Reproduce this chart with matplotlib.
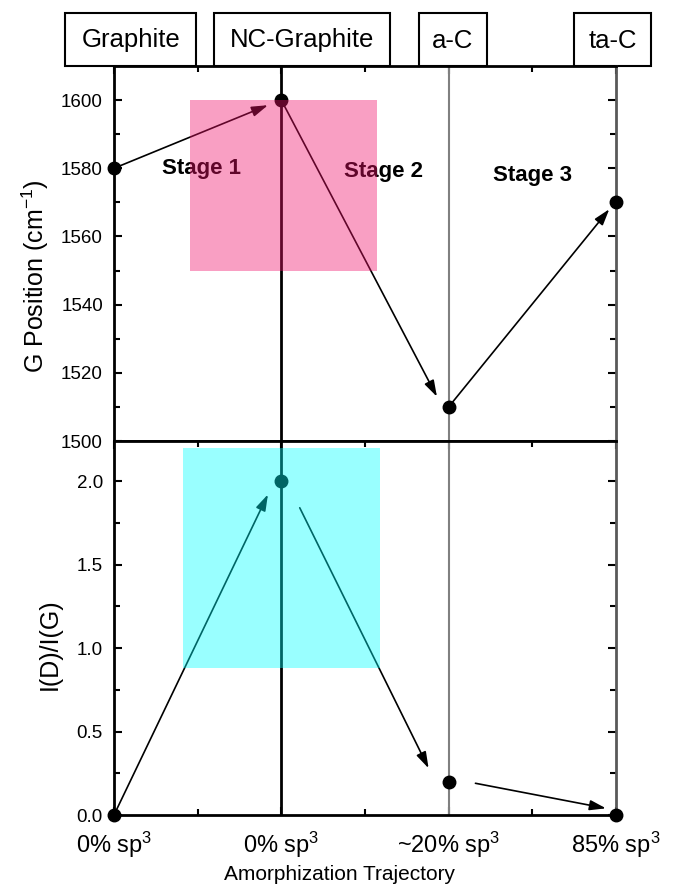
import matplotlib
matplotlib.use("Agg")
import matplotlib.pyplot as plt
import matplotlib.transforms as mtransforms
from matplotlib.patches import Rectangle

plt.rcParams['font.family'] = ['Liberation Sans', 'DejaVu Sans']
plt.rcParams['mathtext.fontset'] = 'custom'
plt.rcParams['mathtext.rm'] = 'Liberation Sans'
plt.rcParams['mathtext.it'] = 'Liberation Sans:italic'
plt.rcParams['mathtext.bf'] = 'Liberation Sans:bold'

# data
stages_x = [0, 1, 2, 3]
g_position = [1580, 1600, 1510, 1570]
id_ig = [0.0, 2.0, 0.2, 0.0]
x_ticklabels = ['0% sp$^3$', '0% sp$^3$', '~20% sp$^3$', '85% sp$^3$']
headers = ['Graphite', 'NC-Graphite', 'a-C', 'ta-C']
header_span = [(-0.29, 0.49), (0.60, 1.65), (1.82, 2.23), (2.75, 3.21)]
stage_labels = ['Stage 1', 'Stage 2', 'Stage 3']
stage_pos = [(0.52, 1580), (1.61, 1579), (2.50, 1578)]

# arrows (start, end) in data units
g_arrows = [((0, 1580), (0.92, 1598.5)),
            ((1, 1600), (1.93, 1513)),
            ((2, 1510), (2.96, 1568))]
r_arrows = [((0, 0.0), (0.92, 1.92)),
            ((1.11, 1.84), (1.88, 0.28)),
            ((2.16, 0.19), (2.94, 0.04))]

arrow_style = dict(arrowstyle='-|>,head_length=0.7,head_width=0.22', color='black',
                   lw=1.2, mutation_scale=14, shrinkA=0, shrinkB=0)

fig = plt.figure(figsize=(6.75, 8.94), dpi=100)
ax1 = fig.add_axes([114 / 675, 1 - 441 / 894, 502 / 675, 375 / 894])
ax2 = fig.add_axes([114 / 675, 1 - 815 / 894, 502 / 675, 374 / 894], sharex=ax1)

for ax in (ax1, ax2):
    ax.set_xlim(0, 3)
    ax.axvline(1, color='black', lw=2, zorder=2)
    ax.axvline(2, color='0.5', lw=1.5, zorder=2)
    ax.tick_params(which='both', direction='in', top=True, right=True,
                   width=1.5, labelsize=13.5, pad=8)
    ax.tick_params(which='major', length=6)
    ax.tick_params(which='minor', length=4)
    for s in ax.spines.values():
        s.set_linewidth(2)
    ax.spines['right'].set_color('0.35')
ax1.set_xticks(stages_x)
ax1.set_xticks([0.5, 1.5, 2.5], minor=True)

# top panel: G position
ax1.set_ylim(1500, 1610)
ax1.set_yticks([1500, 1520, 1540, 1560, 1580, 1600])
ax1.set_yticks(range(1510, 1610, 20), minor=True)
ax1.tick_params(axis='x', which='both', labelbottom=False, bottom=False)
ax1.plot(stages_x, g_position, 'o', color='black', ms=9, clip_on=False, zorder=5)
for (x0, y0), (x1, y1) in g_arrows:
    ax1.annotate('', xy=(x1, y1), xytext=(x0, y0), arrowprops=arrow_style, zorder=4)
for lab, (x, y) in zip(stage_labels, stage_pos):
    ax1.text(x, y, lab, ha='center', va='center', fontsize=16, fontweight='bold', zorder=3)
ax1.add_patch(Rectangle((0.455, 1550), 1.115, 50, facecolor='#F2116B', alpha=0.4,
                        edgecolor='none', zorder=6))
ax1.set_ylabel('G Position (cm$^{-1}$)', fontsize=18)
ax1.yaxis.set_label_coords(-0.125, 0.44)

# header boxes above top panel
trans = mtransforms.blended_transform_factory(ax1.transData, ax1.transAxes)
for lab, (xa, xb) in zip(headers, header_span):
    ax1.add_patch(Rectangle((xa, 1.0), xb - xa, 0.14, transform=trans, fill=False,
                            edgecolor='black', lw=1.5, clip_on=False))
    ax1.text((xa + xb) / 2, 1.068, lab, transform=trans, ha='center', va='center',
             fontsize=18.5)

# bottom panel: I(D)/I(G)
ax2.set_ylim(0, 2.24)
ax2.set_yticks([0.0, 0.5, 1.0, 1.5, 2.0])
ax2.set_yticks([0.25, 0.75, 1.25, 1.75], minor=True)
ax2.yaxis.set_major_formatter(matplotlib.ticker.FormatStrFormatter('%.1f'))
ax2.plot(stages_x, id_ig, 'o', color='black', ms=9, clip_on=False, zorder=5)
for (x0, y0), (x1, y1) in r_arrows:
    ax2.annotate('', xy=(x1, y1), xytext=(x0, y0), arrowprops=arrow_style, zorder=4)
ax2.add_patch(Rectangle((0.41, 0.88), 1.18, 1.32, facecolor='#00FFFF', alpha=0.4,
                        edgecolor='none', zorder=6))
ax2.set_xticklabels(x_ticklabels, fontsize=17)
ax2.tick_params(axis='x', pad=11)
ax2.set_ylabel('I(D)/I(G)', fontsize=18)
ax2.yaxis.set_label_coords(-0.104, 0.457)
ax2.set_xlabel('Amorphization Trajectory', fontsize=15, va='top')
ax2.xaxis.set_label_coords(0.45, -0.135)

fig.savefig('out.png', dpi=100)
